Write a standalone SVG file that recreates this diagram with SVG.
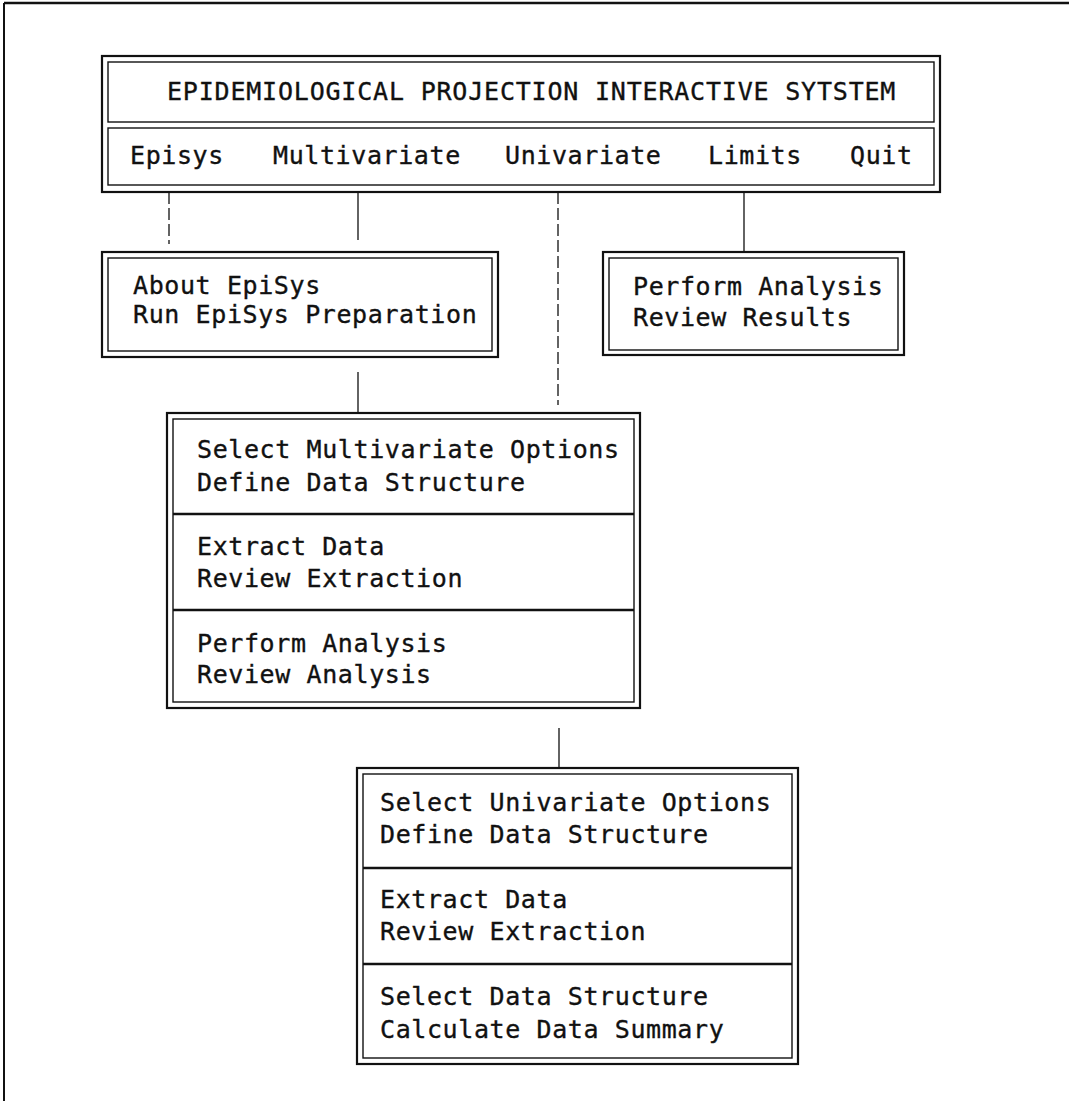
<svg xmlns="http://www.w3.org/2000/svg" width="1069" height="1101" viewBox="0 0 1069 1101">
<style>
.t{font-family:"DejaVu Sans Mono","Liberation Mono",monospace;font-size:25px;letter-spacing:0.6px;fill:#111;stroke:#111;stroke-width:0.35}
.o{fill:none;stroke:#111;stroke-width:2.2}
.i{fill:none;stroke:#111;stroke-width:1.4}
.dv{stroke:#111;stroke-width:2.4}
.c{stroke:#222;stroke-width:1.4;fill:none}
.d{stroke-dasharray:12 4}
</style>
<rect width="1069" height="1101" fill="#fff"/>
<g id="page-frame">
<line x1="4" y1="3" x2="1069" y2="3" stroke="#111" stroke-width="2.5"/>
<line x1="4" y1="3" x2="4" y2="1101" stroke="#111" stroke-width="2"/>
</g>
<g id="connectors">
<line class="c d" x1="169" y1="192" x2="169" y2="244"/>
<line class="c" x1="358" y1="192" x2="358" y2="240"/>
<line class="c d" x1="558" y1="192" x2="558" y2="405"/>
<line class="c" x1="744" y1="192" x2="744" y2="251"/>
<line class="c" x1="358" y1="372" x2="358" y2="413"/>
<line class="c" x1="559" y1="728" x2="559" y2="768"/>
</g>
<g id="main-menu">
<rect class="o" x="102" y="56" width="838" height="136"/>
<rect class="i" x="108" y="62" width="826" height="60"/>
<rect class="i" x="108" y="128" width="826" height="57"/>
<text class="t" x="167" y="100" textLength="729" lengthAdjust="spacing">EPIDEMIOLOGICAL PROJECTION INTERACTIVE SYTSTEM</text>
<text class="t" x="130" y="164">Episys</text>
<text class="t" x="273" y="164">Multivariate</text>
<text class="t" x="505" y="164">Univariate</text>
<text class="t" x="708" y="164">Limits</text>
<text class="t" x="850" y="164">Quit</text>
</g>
<g id="episys-menu">
<rect class="o" x="102" y="252" width="396" height="105"/>
<rect class="i" x="108" y="258" width="384" height="93"/>
<text class="t" x="133" y="294">About EpiSys</text>
<text class="t" x="133" y="323">Run EpiSys Preparation</text>
</g>
<g id="limits-menu">
<rect class="o" x="603" y="252" width="301" height="103"/>
<rect class="i" x="609" y="258" width="289" height="92"/>
<text class="t" x="633" y="295">Perform Analysis</text>
<text class="t" x="633" y="326">Review Results</text>
</g>
<g id="multivariate-menu">
<rect class="o" x="167" y="413" width="473" height="295"/>
<rect class="i" x="173" y="419" width="461" height="283"/>
<line class="dv" x1="173" y1="514" x2="634" y2="514"/>
<line class="dv" x1="173" y1="610" x2="634" y2="610"/>
<text class="t" x="197" y="458">Select Multivariate Options</text>
<text class="t" x="197" y="491">Define Data Structure</text>
<text class="t" x="197" y="555">Extract Data</text>
<text class="t" x="197" y="587">Review Extraction</text>
<text class="t" x="197" y="652">Perform Analysis</text>
<text class="t" x="197" y="683">Review Analysis</text>
</g>
<g id="univariate-menu">
<rect class="o" x="357" y="768" width="441" height="296"/>
<rect class="i" x="363" y="774" width="429" height="284"/>
<line class="dv" x1="363" y1="868" x2="792" y2="868"/>
<line class="dv" x1="363" y1="964" x2="792" y2="964"/>
<text class="t" x="380" y="811">Select Univariate Options</text>
<text class="t" x="380" y="843">Define Data Structure</text>
<text class="t" x="380" y="908">Extract Data</text>
<text class="t" x="380" y="940">Review Extraction</text>
<text class="t" x="380" y="1005">Select Data Structure</text>
<text class="t" x="380" y="1038">Calculate Data Summary</text>
</g>
</svg>
